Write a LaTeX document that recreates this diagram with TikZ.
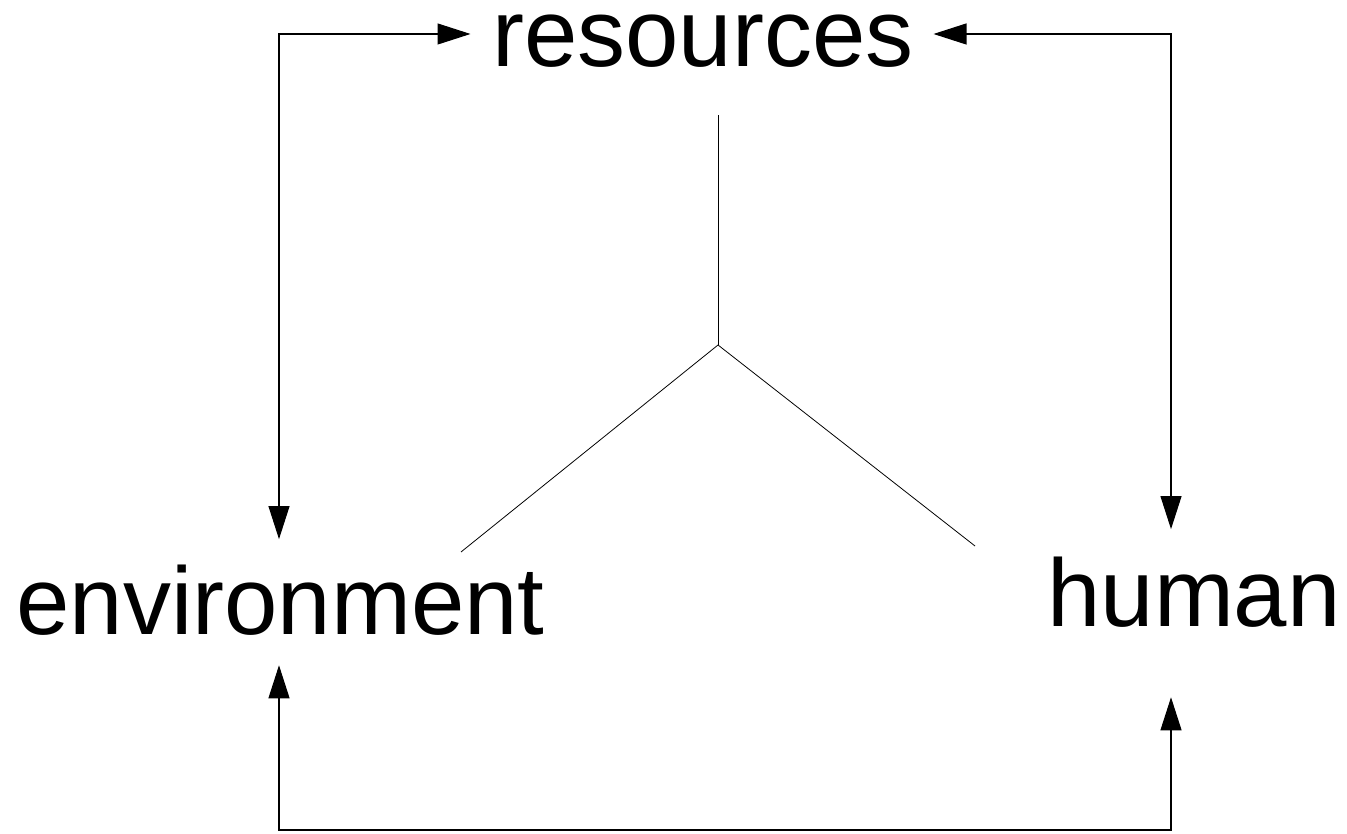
\documentclass[tikz,border=0pt]{standalone}
\usepackage{fontspec}
\setmainfont{Liberation Sans}
\usepackage{tikz}
\usetikzlibrary{arrows.meta,calc}

\begin{document}
\begin{tikzpicture}[>={Triangle[length=6.6mm,width=4.2mm]},
  lbl/.style={inner sep=0pt,font=\fontsize{54.6}{65}\selectfont},
  link/.style={<->,line width=0.6pt},
  spoke/.style={line width=0.45pt}]
  \useasboundingbox (0,0) rectangle (26.94,16.66);
  \node[lbl,anchor=base] (res) at (14.06,15.32) {resources};
  \node[lbl,anchor=base] (env) at (5.61,3.96) {environment};
  \node[lbl,anchor=base] (hum) at (23.88,4.12) {human};
  % corners of the outer loop
  \coordinate (tl) at (5.58,15.98);
  \coordinate (tr) at (23.42,15.98);
  \coordinate (bl) at (5.58,0.06);
  \coordinate (br) at (23.42,0.06);
  \draw[link,shorten <=5.2mm,shorten >=4.3mm] (tl |- env.north) -- (tl) -- (tl -| res.west);
  \draw[link,shorten <=3.9mm,shorten >=5.6mm] (tr -| res.east) -- (tr) -- (tr |- hum.north);
  \draw[link,shorten <=5.8mm,shorten >=13.8mm] (bl |- env.south) -- (bl) -- (br) -- (br |- hum.south);
  % the three-way split in the middle
  \coordinate (hub) at (14.36,9.76);
  \draw[spoke] (hub) -- (14.36,14.36);
  \draw[spoke] (hub) -- (9.22,5.62);
  \draw[spoke] (hub) -- (19.5,5.74);
\end{tikzpicture}
\end{document}
